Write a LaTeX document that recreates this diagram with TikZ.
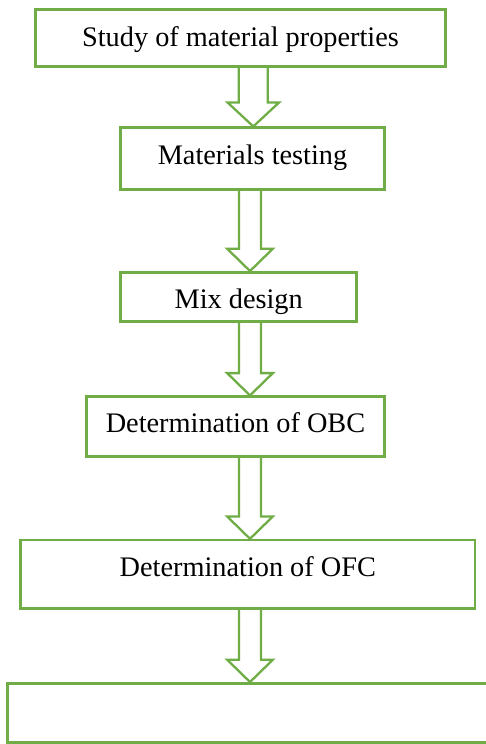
\documentclass[tikz,border=0pt]{standalone}
\usepackage{fontspec}
\setmainfont{Liberation Serif}
\usetikzlibrary{calc}
\pgfdeclarelayer{background}
\pgfsetlayers{background,main}
\definecolor{boxgreen}{HTML}{70AD47}
\tikzset{
  flowbox/.style={draw=boxgreen, line width=2.5pt, fill=white, inner sep=0pt,
    font=\fontsize{28.3}{32}\selectfont, text height=20pt, text depth=1.6pt},
  arrowline/.style={draw=boxgreen, line width=2.3pt, fill=white, line join=miter}
}
\newcommand\blockarr[6]{%
  \path[arrowline] let \p1=(#1.south), \p2=(#2.north) in
    (#3pt-#4pt,\y1) -- (#3pt-#4pt,\y2+#6pt) -- (#3pt-#5pt,\y2+#6pt) -- (#3pt,\y2)
    -- (#3pt+#5pt,\y2+#6pt) -- (#3pt+#4pt,\y2+#6pt) -- (#3pt+#4pt,\y1);}
\begin{document}
\begin{tikzpicture}[x=1pt,y=1pt]
\useasboundingbox (0,0) rectangle (486,744);
\clip (0,0) rectangle (486,744);
% boxes
\node[flowbox, minimum width=409.6pt, minimum height=57.4pt, text depth=3.6pt] (b1) at (240.5,706) {Study of material properties};
\node[flowbox, minimum width=263.6pt, minimum height=61.6pt, text depth=8pt] (b2) at (252.5,585.5) {Materials testing};
\node[flowbox, minimum width=236pt, minimum height=49.4pt, text height=24pt, text depth=1.6pt] (b3) at (238.7,447) {Mix design};
\node[flowbox, minimum width=297.6pt, minimum height=60pt, text depth=8pt] (b4) at (235.5,317.3) {Determination of OBC};
\node[flowbox, minimum width=454.3pt, minimum height=68.3pt, text depth=16pt] (b5) at (247.8,169.8) {Determination of OFC};
\node[flowbox, minimum width=512.6pt, minimum height=59.4pt] (b6) at (263.6,31) {};
% arrows (behind the boxes)
\begin{pgfonlayer}{background}
\blockarr{b1}{b2}{253.3}{14.5}{25.8}{24}
\blockarr{b2}{b3}{250}{11}{22.8}{22.3}
\blockarr{b3}{b4}{250}{11}{22.8}{22.3}
\blockarr{b4}{b5}{250}{11}{22.8}{22.3}
\blockarr{b5}{b6}{250}{11}{22.8}{22.3}
\end{pgfonlayer}
\end{tikzpicture}
\end{document}
